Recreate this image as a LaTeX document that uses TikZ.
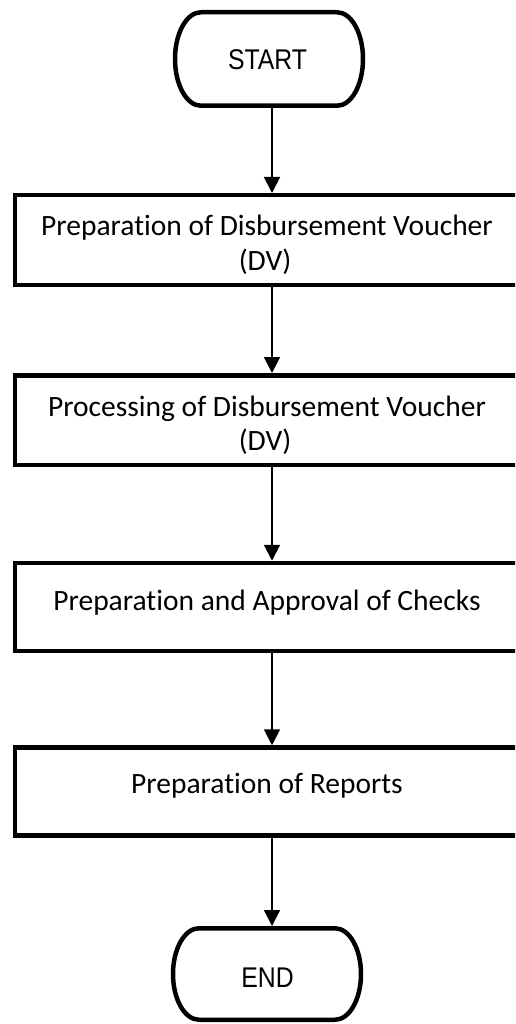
\documentclass[tikz,border=0pt]{standalone}
\usepackage{fontspec}
\setmainfont{Carlito}[Ligatures={NoCommon}]
\newfontfamily\termfont[FakeStretch=0.87]{Liberation Sans}
\usetikzlibrary{arrows.meta,calc}
\tikzset{
  termbox/.style={minimum width=188pt, inner sep=0pt, outer sep=2.25pt},
  termline/.style={line width=4.5pt, line join=round},
  termtext/.style={font=\termfont\fontsize{28.5}{32}\selectfont, inner sep=0pt, anchor=base},
  procbox/.style={draw, line width=4.5pt, minimum width=514pt, inner sep=0pt},
  proctext/.style={font=\fontsize{29.5}{34}\selectfont, inner sep=0pt, anchor=base},
  flow/.style={-{Triangle[length=16pt,width=16pt]}, line width=1.8pt},
}
\begin{document}
\begin{tikzpicture}[x=1pt,y=1pt]
\useasboundingbox (0,0) rectangle (515,-1024);
\clip (0,0) rectangle (515,-1024);
\fill[white] (0,0) rectangle (515,-1024);

% START terminal
\node[termbox, minimum height=93.5pt] (s) at (269,-59) {};
\draw[termline] ($(s.center)+(-68,46.75)$) -- ($(s.center)+(68,46.75)$)
  arc[start angle=90, end angle=-90, x radius=26, y radius=46.75]
  -- ($(s.center)+(-68,-46.75)$)
  arc[start angle=270, end angle=90, x radius=26, y radius=46.75] -- cycle;
\node[termtext] (st) at (267.5,-69.3) {START};

% process boxes
\node[procbox, minimum height=89.5pt] (b1) at (272,-240) {};
\node[proctext] (t1a) at (267,-236) {Preparation of Disbursement Voucher};
\node[proctext] (t1b) at (265,-270) {(DV)};

\node[procbox, minimum height=89.5pt] (b2) at (272,-420) {};
\node[proctext] (t2a) at (267,-416) {Processing of Disbursement Voucher};
\node[proctext] (t2b) at (265,-450) {(DV)};

\node[procbox, minimum height=88pt] (b3) at (272,-607) {};
\node[proctext] (t3) at (267,-610) {Preparation and Approval of Checks};

\node[procbox, minimum height=88pt] (b4) at (272,-791.5) {};
\node[proctext] (t4) at (267,-793) {Preparation of Reports};

% END terminal
\node[termbox, minimum height=91.5pt] (e) at (267,-974) {};
\draw[termline] ($(e.center)+(-68,45.75)$) -- ($(e.center)+(68,45.75)$)
  arc[start angle=90, end angle=-90, x radius=26, y radius=45.75]
  -- ($(e.center)+(-68,-45.75)$)
  arc[start angle=270, end angle=90, x radius=26, y radius=45.75] -- cycle;
\node[termtext] (et) at (267.5,-987) {END};

% connectors
\draw[flow] (s.south -| b1.north) -- (b1.north);
\draw[flow] (b1.south) -- (b2.north);
\draw[flow] (b2.south) -- (b3.north);
\draw[flow] (b3.south) -- (b4.north);
\draw[flow] (b4.south) -- (b4.south |- e.north);
\end{tikzpicture}
\end{document}
